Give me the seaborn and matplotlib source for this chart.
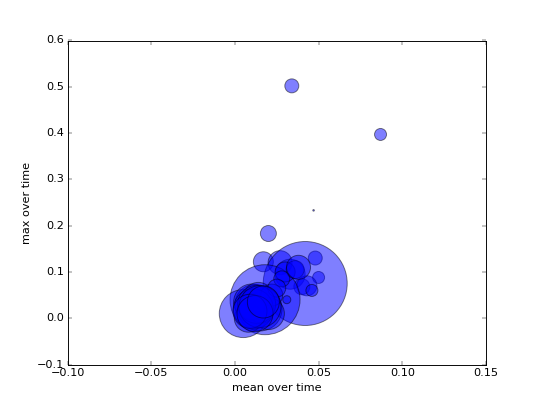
import matplotlib
matplotlib.use("Agg")
import matplotlib.pyplot as plt
import seaborn as sns
import pandas as pd

mean_vals = [0.034, 0.087, 0.047, 0.020, 0.017, 0.027, 0.033, 0.048, 0.050, 0.040, 0.043,
             0.042, 0.018, 0.005, 0.012, 0.015, 0.010, 0.020, 0.008, 0.014, 0.016, 0.030,
             0.036, 0.028, 0.046, 0.010, 0.022, 0.025, 0.038, 0.031,
             0.011, 0.013, 0.015, 0.009, 0.012, 0.017]
max_vals = [0.502, 0.397, 0.233, 0.183, 0.122, 0.120, 0.095, 0.130, 0.088, 0.068, 0.070,
            0.075, 0.040, 0.010, 0.030, 0.020, 0.035, 0.010, 0.000, 0.045, 0.015, 0.100,
            0.105, 0.085, 0.060, 0.025, 0.050, 0.065, 0.110, 0.040,
            0.020, 0.030, 0.025, 0.015, 0.010, 0.035]
radius_px = [7, 6, 0.8, 8, 10, 12, 15, 7, 6, 8, 10,
             42, 35, 24, 20, 22, 18, 16, 14, 15, 12, 10,
             9, 8, 6, 13, 11, 9, 12, 4,
             20, 19, 21, 17, 18, 16]

df = pd.DataFrame({"mean": mean_vals, "max": max_vals,
                   "s": [4.55 * r * r for r in radius_px]})

plt.style.use("classic")
fig, ax = plt.subplots(figsize=(8, 6), dpi=67.5)
fig.patch.set_facecolor("white")
ax.scatter(df["mean"], df["max"], s=df["s"], c="blue", alpha=0.5, edgecolors="black")
sns.despine(ax=ax, top=False, right=False)
ax.set_xlim(-0.10, 0.15)
ax.set_ylim(-0.1, 0.6)
ax.set_xlabel("mean over time")
ax.set_ylabel("max over time")
fig.savefig("out.png", dpi=67.5, facecolor="white")
